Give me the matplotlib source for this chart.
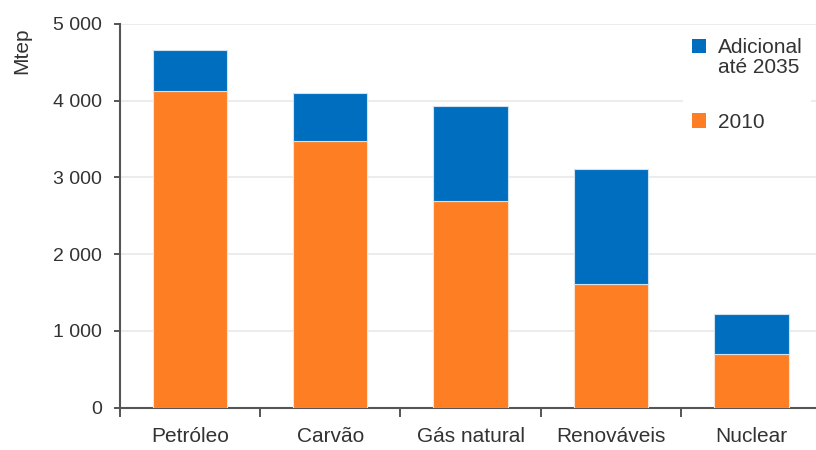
import matplotlib
matplotlib.use("Agg")
import matplotlib.pyplot as plt
from matplotlib.patches import Patch, Rectangle
from matplotlib.legend_handler import HandlerPatch
from matplotlib.ticker import FuncFormatter

plt.rcParams["font.family"] = ["Liberation Sans", "DejaVu Sans"]

categories = ["Petróleo", "Carvão", "Gás natural", "Renováveis", "Nuclear"]
valores_2010 = [4130, 3480, 2695, 1615, 700]
adicional_2035 = [530, 625, 1240, 1490, 520]
yticks = [0, 1000, 2000, 3000, 4000, 5000]

cor_2010 = "#FD7E23"
cor_adic = "#006EBE"
cor_texto = "#333333"
cor_eixo = "#555555"


class HandlerTopPatch(HandlerPatch):
    """Square legend key aligned with the first line of a two-line label."""

    def __init__(self, shift=0.0, **kw):
        super().__init__(**kw)
        self.shift = shift

    def create_artists(self, legend, orig_handle, xdescent, ydescent,
                       width, height, fontsize, trans):
        p = Rectangle((-xdescent, -ydescent + self.shift * fontsize),
                      width, height, facecolor=orig_handle.get_facecolor(),
                      edgecolor="none", transform=trans)
        return [p]


fig = plt.figure(figsize=(8.16, 4.5), dpi=100)
ax = fig.add_axes([0.1465, 0.0944, 0.8535, 0.8523])

x = list(range(len(categories)))
ax.bar(x, valores_2010, width=0.53, color=cor_2010, edgecolor="#FBE3D0",
       linewidth=0.8, zorder=3)
ax.bar(x, adicional_2035, width=0.53, bottom=valores_2010, color=cor_adic,
       edgecolor="#CFE2F3", linewidth=0.8, zorder=3)

ax.set_ylim(0, 5000)
ax.set_xlim(-0.5, 4.46)
ax.set_yticks(yticks)
ax.yaxis.set_major_formatter(FuncFormatter(lambda v, p: f"{int(v):,}".replace(",", " ")))
ax.grid(axis="y", color="#EAEAEA", linewidth=1.3, zorder=0)

# category labels centred, tick marks on the boundaries between categories
ax.set_xticks(x)
ax.set_xticklabels(categories, fontsize=15, color=cor_texto)
ax.tick_params(axis="x", length=0, pad=14)
ax.set_xticks([i - 0.5 for i in range(len(categories))], minor=True)
ax.tick_params(axis="x", which="minor", length=6.5, width=1.4, color=cor_eixo,
               direction="out")
ax.tick_params(axis="y", length=4, width=1.4, color=cor_eixo, labelsize=14,
               labelcolor=cor_texto, pad=8.5)

for side in ("top", "right"):
    ax.spines[side].set_visible(False)
for side in ("left", "bottom"):
    ax.spines[side].set_color(cor_eixo)
    ax.spines[side].set_linewidth(1.5)

fig.text(0.027, 0.94, "Mtep", rotation=90, fontsize=15, color=cor_texto,
         ha="center", va="top")

handles = [Patch(facecolor=cor_adic, edgecolor="none"),
           Patch(facecolor=cor_2010, edgecolor="none")]
leg = ax.legend(handles, ["Adicional\naté 2035", "2010"], loc="upper left",
                bbox_to_anchor=(0.837, 0.936), bbox_transform=fig.transFigure,
                borderaxespad=0, frameon=True, facecolor="white",
                edgecolor="none", framealpha=1, fontsize=15,
                handlelength=0.68, handleheight=0.68, handletextpad=0.55,
                labelspacing=1.7, borderpad=0.43,
                handler_map={handles[0]: HandlerTopPatch(shift=0.56)})
for t in leg.get_texts():
    t.set_color(cor_texto)
    t.set_linespacing(1.1)

fig.savefig("out.png", dpi=100, facecolor="white")
